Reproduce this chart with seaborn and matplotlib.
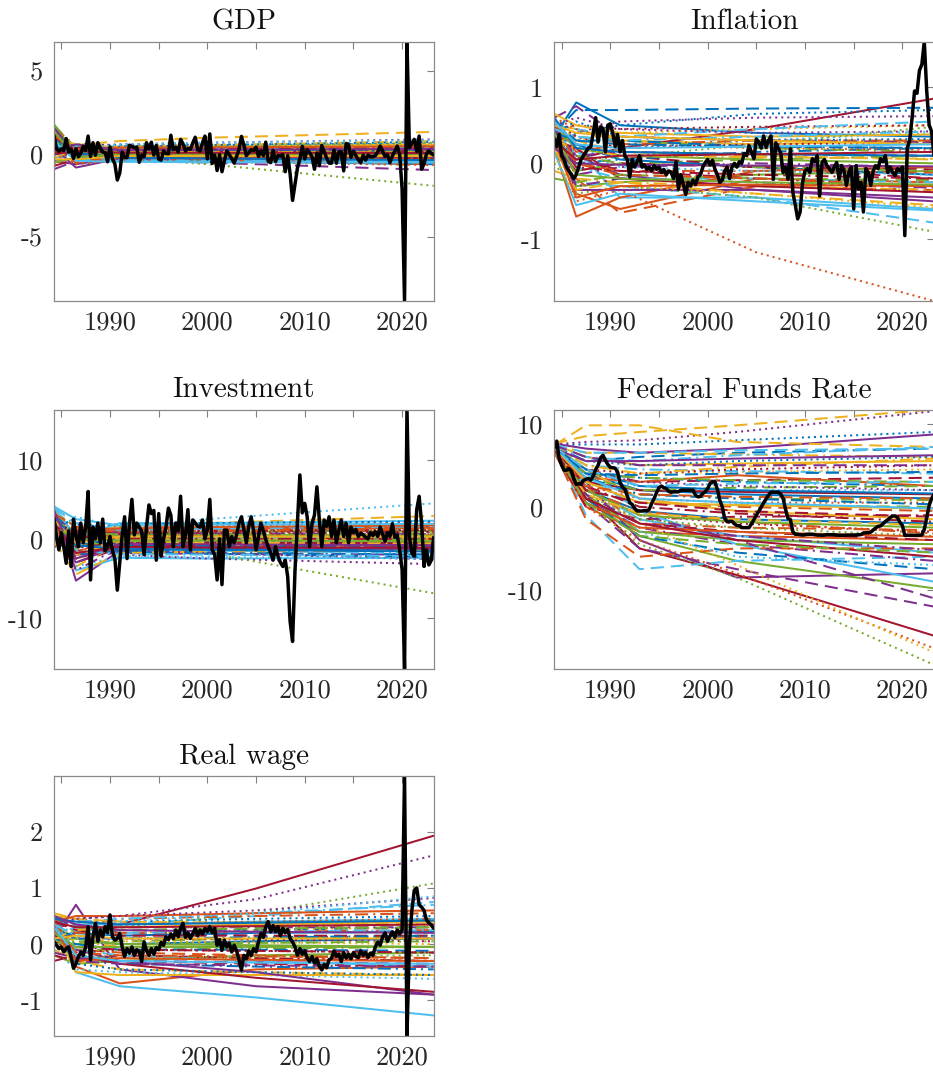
import numpy as np
import pandas as pd
import matplotlib
matplotlib.use("Agg")
import matplotlib.pyplot as plt
import seaborn as sns

# Quarterly sample, 1984Q2 .. 2023Q2 (year + (q-1)/4)
quarters = np.arange(1984.25, 2023.26, 0.25)

# ---- observed series (demeaned, quarterly) ----
gdp_obs = [
    1.13, 0.33, 0.18,
    0.33, 0.23, 0.95, 0.13,
    0.33, -0.25, 0.33, -0.15,
    0.05, 0.48, 0.23, 1.10,
    -0.13, 0.70, -0.05, 0.70,
    0.38, 0.13, 0.10, -0.45,
    0.45, -0.28, -0.58, -1.55,
    -1.13, 0.13, -0.18, -0.20,
    0.55, 0.48, 0.40, 0.43,
    -0.48, -0.05, -0.15, 0.70,
    0.33, 0.73, -0.05, 0.53,
    -0.30, -0.35, 0.20, 0.05,
    0.03, 1.15, 0.28, 0.43,
    0.13, 0.90, 0.63, 0.20,
    0.35, 0.30, 0.68, 1.03,
    0.30, 0.20, 0.70, 1.10,
    -0.28, 1.23, -0.55, -0.05,
    -0.98, -0.03, -1.05, -0.38,
    0.20, -0.03, -0.25, -0.53,
    -0.13, 0.30, 1.08, 0.55,
    -0.08, 0.10, 0.28, 0.23,
    0.43, -0.13, 0.20, -0.08,
    0.73, -0.43, -0.50, 0.23,
    -0.43, -0.08, -0.10, -0.03,
    -1.05, -0.08, -1.18, -2.78,
    -1.80, -0.83, -0.28, 0.48,
    -0.28, 0.28, 0.10, -0.15,
    -0.90, 0.08, -0.68, 0.53,
    0.15, -0.23, -0.53, -0.53,
    0.25, -0.53, 0.15, 0.15,
    -1.00, 0.65, 0.58, -0.18,
    0.18, -0.08, -0.33, -0.50,
    -0.05, -0.35, -0.05, -0.15,
    -0.15, -0.08, 0.15, 0.50,
    0.18, -0.13, -0.03, -0.50,
    -0.10, 0.20, 0.50, 0.00,
    -2.10, -8.85, 6.80, 0.40,
    0.65, 0.90, 0.18, 1.10,
    -0.90, -0.58, 0.03, 0.20,
    0.05, -0.05,
]

infl_obs = [
    0.32, 0.22, 0.38,
    0.10, 0.05, -0.05, -0.10,
    -0.15, -0.20, -0.15, -0.05,
    0.05, 0.10, 0.15, 0.20,
    0.22, 0.40, 0.60, 0.28,
    0.48, 0.45, 0.15, 0.50,
    0.52, 0.40, 0.22, 0.38,
    0.15, 0.30, 0.10, 0.05,
    -0.18, 0.05, -0.05, 0.02,
    0.10, -0.05, -0.02, -0.08,
    -0.05, -0.10, -0.03, -0.08,
    -0.05, -0.12, -0.08, -0.15,
    -0.10, -0.12, -0.20, 0.02,
    -0.34, -0.15, -0.28, -0.41,
    -0.25, -0.30, -0.22, -0.28,
    -0.18, -0.15, -0.05, 0.01,
    0.05, -0.02, 0.04, -0.08,
    -0.15, -0.25, -0.22, -0.10,
    -0.05, -0.20, -0.05, 0.00,
    -0.05, 0.02, 0.00, 0.13,
    0.10, 0.23, 0.15, 0.06,
    0.32, 0.28, 0.20, 0.36,
    0.21, 0.30, 0.36, -0.21,
    0.27, 0.20, 0.14, -0.12,
    -0.05, -0.21, 0.19, -0.38,
    -0.55, -0.73, -0.64, -0.25,
    -0.10, -0.07, -0.12, 0.06,
    0.02, 0.10, -0.43, 0.01,
    0.05, -0.03, -0.07, -0.12,
    -0.05, 0.01, -0.21, -0.03,
    -0.10, -0.29, -0.12, -0.05,
    -0.60, -0.03, -0.34, -0.25,
    -0.64, -0.07, -0.12, -0.29,
    -0.10, -0.03, -0.07, 0.06,
    0.02, 0.10, -0.12, -0.05,
    -0.12, -0.16, -0.07, -0.10,
    -0.05, -0.95, 0.20, 0.30,
    0.60, 0.95, 0.92, 1.22,
    1.30, 1.60, 0.95, 0.50,
    0.42, 0.10,
]

inv_obs = [
    2.6, 0.3, -1.4,
    0.8, -1.0, -3.1, 1.0,
    -3.5, 2.5, 0.5, -1.0,
    2.0, -0.5, 1.5, 6.0,
    -5.2, 1.5, 0.0, 2.0,
    -0.5, 2.5, -1.5, -1.0,
    0.3, -1.5, -2.5, -6.5,
    -3.0, 0.5, 2.8, -2.5,
    2.0, 5.0, 0.5, 2.0,
    1.5, 1.0, -2.0, 1.5,
    4.3, 3.2, 3.6, -2.7,
    3.2, -2.2, 0.0, 1.5,
    3.9, 3.0, -1.0, 2.0,
    1.0, 5.4, -1.0, 0.5,
    3.7, -1.4, 2.4, 2.0,
    1.6, 1.5, 2.4, 0.0,
    1.2, 5.0, -1.4, -2.0,
    -5.2, 0.0, -5.8, 1.1,
    1.1, -1.0, 0.3, -0.5,
    0.5, 2.0, 2.8, 1.2,
    -0.5, 1.6, 2.8, 1.0,
    -1.4, 0.3, 2.0, 1.0,
    -0.1, -1.0, -1.8, -2.7,
    -1.0, -2.2, -3.0, -3.5,
    -2.7, -4.8, -10.5, -13.0,
    -4.0, 2.0, 8.1, 3.3,
    4.5, 2.8, -1.0, 2.0,
    3.0, 6.6, 2.4, -1.0,
    2.4, 1.6, 2.8, 0.3,
    2.4, -0.5, 1.1, 2.4,
    0.3, 2.0, -0.5, 1.5,
    0.8, 1.2, 0.3, 0.7,
    0.5, 0.2, 0.0, 0.8,
    0.4, 0.9, 0.3, 1.5,
    0.6, -0.3, 0.8, 0.3,
    1.9, 0.2, 0.5, -1.4,
    -3.9, -16.5, 16.4, 0.3,
    -1.8, -2.2, 3.7, 5.4,
    2.0, -3.5, -1.4, -3.3,
    -2.7, 0.2,
]

ffr_obs = [
    7.1, 7.9, 5.8,
    5.0, 4.4, 4.4, 4.6,
    4.3, 3.4, 2.7, 2.8,
    2.7, 3.2, 3.3, 3.4,
    3.2, 3.7, 4.5, 5.0,
    5.9, 6.2, 5.6, 5.1,
    4.75, 4.7, 4.65, 4.2,
    2.9, 2.4, 2.1, 1.3,
    0.5, 0.3, -0.2, -0.5,
    -0.5, -0.5, -0.45, -0.5,
    -0.3, 0.4, 1.0, 1.7,
    2.3, 2.5, 2.3, 2.2,
    1.85, 1.75, 1.8, 1.8,
    1.8, 2.0, 2.0, 2.0,
    2.0, 2.0, 2.0, 1.4,
    1.2, 1.25, 1.6, 1.8,
    2.2, 2.8, 3.0, 3.0,
    2.1, 0.8, 0.0, -1.4,
    -1.8, -1.75, -1.75, -2.05,
    -2.25, -2.25, -2.5, -2.5,
    -2.5, -2.5, -2.05, -1.55,
    -1.0, -0.55, -0.05, 0.5,
    0.95, 1.4, 1.75, 1.75,
    1.75, 1.75, 1.55, 1.0,
    -0.3, -1.4, -1.55, -3.0,
    -3.3, -3.3, -3.35, -3.4,
    -3.35, -3.3, -3.3, -3.3,
    -3.35, -3.4, -3.4, -3.43,
    -3.4, -3.35, -3.35, -3.35,
    -3.35, -3.4, -3.42, -3.42,
    -3.43, -3.4, -3.4, -3.4,
    -3.39, -3.38, -3.37, -3.34,
    -3.14, -3.13, -3.11, -3.05,
    -2.8, -2.55, -2.35, -2.3,
    -2.05, -1.76, -1.58, -1.28,
    -1.1, -1.1, -1.3, -1.86,
    -2.24, -3.44, -3.41, -3.41,
    -3.42, -3.43, -3.41, -3.42,
    -3.38, -2.73, -1.31, 0.15,
    1.0, 1.5,
]

wage_obs = [
    0.04, -0.02, -0.08,
    -0.05, -0.14, -0.08, -0.05,
    -0.23, -0.43, -0.35, -0.23,
    -0.14, -0.20, -0.05, 0.31,
    -0.28, 0.13, 0.37, 0.05,
    0.25, 0.13, 0.31, 0.20,
    0.52, 0.13, 0.07, 0.10,
    0.19, -0.05, -0.22, -0.08,
    -0.16, -0.05, -0.20, -0.10,
    -0.13, -0.31, 0.04, -0.12,
    -0.20, -0.08, -0.18, -0.06,
    -0.10, 0.03, -0.02, 0.13,
    0.08, 0.18, 0.10, 0.25,
    0.13, 0.28, 0.37, 0.12,
    0.20, 0.10, 0.19, 0.28,
    0.15, 0.25, 0.18, 0.28,
    0.22, 0.31, 0.20, 0.28,
    -0.02, 0.08, -0.11, 0.07,
    -0.05, 0.02, -0.14, -0.02,
    -0.12, -0.28, -0.46, -0.20,
    -0.26, -0.12, -0.20, -0.08,
    -0.14, 0.04, 0.19, 0.12,
    0.31, 0.40, 0.22, 0.33,
    0.22, 0.31, 0.15, 0.28,
    0.20, 0.26, 0.10, 0.04,
    -0.05, -0.20, -0.08, -0.18,
    -0.12, -0.25, -0.31, -0.22,
    -0.34, -0.26, -0.40, -0.46,
    -0.36, -0.42, -0.28, -0.25,
    -0.12, -0.22, -0.18, -0.31,
    -0.15, -0.25, -0.18, -0.26,
    -0.15, -0.22, -0.24, -0.12,
    -0.20, -0.15, -0.24, -0.16,
    -0.20, -0.05, 0.04, -0.02,
    0.13, 0.20, 0.05, 0.14,
    0.22, 0.12, 0.25, 0.18,
    0.25, 3.00, -1.63, 0.01,
    0.60, 0.96, 1.00, 0.70,
    0.66, 0.60, 0.43, 0.38,
    0.34, 0.28,
]

# ---- simulated paths: value at each knot date ----
gdp_knots = [1984.25, 1986.5, 1991.0, 2000.0, 2023.25]
gdp_paths = [
    [0.6, 0.2, 0.1, 0.08, 0.05], [1.2, -0.3, 0.0, -0.03, -0.1], [0.9, 0.4, 0.3, 0.32, 0.35],
    [-0.4, -0.6, -0.2, -0.23, -0.3], [1.5, -0.5, -0.1, -0.13, -0.2], [0.3, 0.3, 0.1, -0.35, -0.55],
    [0.8, 0.1, 0.2, 0.22, 0.25], [0.2, 0.35, 0.45, 0.48, 0.55], [1.0, 0.0, -0.05, -0.15, -0.35],
    [0.7, 0.55, 0.8, 1.0, 1.35], [0.1, -0.2, -0.3, -0.5, -0.95], [1.8, 0.3, 0.15, 0.17, 0.2],
    [-0.2, -0.1, 0.05, 0.07, 0.1], [0.5, -0.2, -0.15, -0.25, -0.45], [0.4, 0.6, 0.55, 0.58, 0.65],
    [1.4, 0.2, 0.3, 0.33, 0.4], [-0.6, 0.0, 0.2, 0.27, 0.45], [0.9, 0.5, 0.6, 0.7, 0.9],
    [0.3, -0.1, -0.2, -0.6, -1.9], [1.1, 0.4, 0.5, 0.52, 0.55], [-0.3, -0.4, -0.1, -0.08, -0.05],
    [0.0, 0.1, 0.0, -0.05, -0.15], [1.6, 0.5, 0.25, 0.27, 0.3], [0.5, -0.3, -0.05, -0.03, 0.0],
    [-0.9, -0.4, -0.2, -0.27, -0.4], [0.8, 0.2, 0.1, 0.12, 0.15], [1.3, 0.0, -0.25, -0.33, -0.5],
    [0.2, 0.1, 0.35, 0.4, 0.5], [0.7, -0.1, -0.3, -0.4, -0.6], [-0.5, -0.2, 0.05, 0.07, 0.1],
    [1.0, 0.6, 0.4, 0.45, 0.6], [0.4, -0.8, -0.25, -0.28, -0.35], [1.7, 0.1, 0.2, 0.23, 0.3],
    [0.6, -0.3, -0.4, -0.42, -0.45], [0.1, 0.3, 0.0, -0.08, -0.25], [1.2, 0.4, 0.2, 0.2, 0.2],
    [0.3, -0.5, -0.2, -0.32, -0.6], [-0.2, 0.3, 0.45, 0.55, 0.8], [1.5, 0.1, 0.1, 0.07, 0.0],
    [0.6, 0.0, 0.0, 0.02, 0.05], [0.9, 0.5, 0.3, 0.35, 0.45], [-0.7, -0.3, 0.1, 0.13, 0.2],
    [0.8, 0.2, 0.45, 0.55, 0.75], [0.0, -0.6, -0.35, -0.45, -0.65], [1.1, 0.1, 0.15, 0.18, 0.25],
    [0.5, 0.0, -0.05, -0.07, -0.1], [1.4, 0.5, 0.35, 0.45, 0.7], [-0.1, 0.2, 0.6, 0.7, 0.85],
    [0.3, -0.2, -0.1, -0.15, -0.3], [0.9, 0.3, 0.25, 0.26, 0.28], [1.3, -0.4, -0.2, -0.22, -0.25],
    [0.4, 0.2, 0.15, 0.14, 0.12], [1.6, 0.0, -0.1, -0.12, -0.15], [-0.5, -0.2, 0.0, 0.02, 0.05],
    [0.7, -0.1, -0.35, -0.38, -0.42], [1.0, 0.4, 0.3, 0.33, 0.38], [0.5, 0.1, -0.2, -0.25, -0.35],
    [1.1, 0.3, 0.4, 0.42, 0.48], [-0.3, -0.3, -0.1, -0.1, -0.1], [0.2, 0.6, 0.25, 0.28, 0.32],
    [1.4, -0.2, 0.05, 0.05, 0.05], [0.8, -0.4, -0.45, -0.48, -0.5], [0.0, 0.2, 0.1, 0.09, 0.08],
]

infl_knots = [1984.25, 1986.5, 1991.0, 2005.0, 2023.25]
infl_paths = [
    [0.35, 0.8, 0.5, 0.4, 0.35], [0.6, -0.4, -0.6, -0.2, -0.25], [0.5, 0.45, 0.3, 0.25, 0.3],
    [0.3, 0.1, -0.15, -0.35, -0.5], [0.2, -0.3, -0.25, -0.15, -0.1], [0.45, 0.2, -0.45, -0.45, -0.6],
    [0.25, 0.05, 0.2, 0.45, 0.85], [0.4, 0.7, 0.7, 0.72, 0.73], [0.55, -0.2, -0.65, -0.3, -0.35],
    [0.3, 0.3, 0.15, 0.1, 0.05], [0.6, 0.75, 0.35, 0.3, 0.28], [0.1, -0.1, 0.0, 0.05, 0.1],
    [0.35, -0.25, -0.3, -0.45, -0.78], [0.5, 0.25, 0.1, -0.05, -0.2], [0.2, 0.4, 0.5, 0.65, 0.7],
    [0.4, -0.5, -0.35, -1.17, -1.81], [0.55, 0.3, 0.4, 0.45, 0.5], [0.15, 0.4, 0.55, 0.6, 0.62],
    [0.0, -0.4, -0.3, -0.45, -0.9], [0.3, 0.1, 0.2, 0.3, 0.4], [0.45, 0.5, 0.45, 0.48, 0.5],
    [0.25, 0.0, 0.05, 0.15, 0.2], [0.5, 0.15, 0.25, 0.3, 0.3], [-0.1, -0.2, -0.25, -0.3, -0.35],
    [0.4, -0.15, -0.05, 0.0, -0.05], [0.3, 0.35, 0.3, 0.2, 0.15], [0.6, -0.05, -0.2, -0.2, -0.25],
    [0.1, 0.1, -0.1, -0.2, -0.3], [0.45, 0.25, 0.05, -0.05, -0.15], [0.2, -0.7, -0.45, -0.1, -0.05],
    [0.65, 0.5, 0.4, 0.35, 0.38], [0.35, -0.35, -0.35, -0.35, -0.45], [0.5, 0.2, 0.1, 0.05, 0.0],
    [0.15, -0.55, -0.4, -0.5, -0.62], [0.3, 0.2, -0.2, -0.3, -0.38], [0.55, 0.3, 0.3, 0.22, 0.2],
    [0.35, 0.0, -0.1, -0.1, -0.12], [0.2, -0.35, -0.25, -0.4, -0.55], [0.45, 0.1, 0.15, 0.12, 0.1],
    [-0.2, -0.25, -0.15, -0.2, -0.22], [0.5, 0.45, 0.35, 0.45, 0.55], [0.25, -0.1, 0.0, -0.05, -0.08],
    [0.4, 0.55, 0.35, 0.3, 0.32], [0.6, 0.45, 0.25, 0.2, 0.18], [0.1, -0.45, -0.3, -0.4, -0.58],
    [0.5, 0.6, 0.45, 0.4, 0.42], [0.35, 0.05, 0.08, 0.25, 0.48], [0.2, 0.15, -0.05, -0.1, -0.15],
    [0.55, 0.35, 0.2, 0.25, 0.27], [0.4, 0.3, 0.25, 0.22, 0.2], [0.55, 0.0, -0.15, -0.2, -0.3],
    [0.3, 0.2, 0.1, 0.08, 0.06], [0.5, -0.3, -0.2, -0.25, -0.32], [0.25, 0.1, 0.0, -0.05, -0.1],
    [0.45, 0.35, 0.3, 0.35, 0.42], [0.35, -0.05, -0.1, -0.15, -0.2], [0.6, 0.2, 0.15, 0.12, 0.1],
    [0.3, -0.45, -0.3, -0.28, -0.3], [0.5, 0.4, 0.35, 0.3, 0.25], [0.2, 0.0, -0.02, -0.03, -0.04],
    [0.4, -0.15, -0.2, -0.25, -0.28], [0.55, 0.25, 0.2, 0.22, 0.25], [0.3, 0.05, 0.1, 0.12, 0.15],
]

inv_knots = [1984.25, 1986.5, 1991.0, 2000.0, 2023.25]
inv_paths = [
    [2.0, -1.0, -0.5, -0.5, -0.6], [3.5, 0.5, 0.3, 0.4, 0.5], [1.0, -2.5, -1.0, -0.9, -0.8],
    [4.2, -5.3, -1.5, -1.4, -1.3], [0.5, 1.0, 0.8, 0.9, 1.0], [3.0, -4.0, -2.4, -2.5, -2.4],
    [2.5, 0.0, 0.2, 0.1, 0.0], [1.5, 1.5, 1.2, 1.3, 1.5], [-0.5, -1.5, -0.8, -1.0, -1.2],
    [3.0, 1.0, 1.5, 2.0, 2.9], [0.0, -2.0, -1.8, -1.9, -2.0], [2.8, 0.5, 0.6, 0.6, 0.7],
    [1.2, -0.5, 0.0, 0.1, 0.2], [3.8, -3.0, -1.2, -1.3, -1.5], [2.2, 2.0, 1.0, 1.1, 1.2],
    [0.8, 1.5, 1.6, 1.8, 2.0], [3.3, -1.0, -0.3, -0.3, -0.4], [1.8, -1.5, -2.0, -2.5, -3.2],
    [2.0, 0.0, -1.0, -1.8, -6.9], [1.0, 2.8, 1.5, 2.5, 4.5], [-1.0, -0.5, 0.5, 0.6, 0.8],
    [3.0, -2.0, -1.5, -1.7, -2.0], [1.5, 0.8, 1.0, 1.1, 1.3], [2.5, -3.5, -0.6, -0.6, -0.7],
    [0.5, 0.0, -0.2, -0.3, -0.5], [3.5, 1.5, 0.4, 0.3, 0.2], [2.0, -1.0, -1.3, -1.5, -1.8],
    [1.0, 0.5, 0.9, 1.0, 1.1], [2.7, -0.5, -1.0, -1.2, -1.5], [0.2, -2.0, 1.2, 1.3, 1.4],
    [3.6, 0.3, 0.0, -0.1, -0.2], [1.2, -3.0, -0.8, -1.0, -1.3], [2.3, -1.2, 0.6, 0.5, 0.4],
    [4.0, 0.2, 2.0, 2.0, 2.3], [0.8, -1.0, -0.4, -0.5, -0.6], [3.1, 0.5, -1.6, -1.9, -2.3],
    [1.6, -0.3, 0.3, 0.4, 0.6], [-0.3, -4.5, -1.8, -1.6, -1.5], [2.6, 1.0, 0.8, 0.7, 0.6],
    [1.4, -0.8, -0.3, -0.2, -0.1], [3.9, 2.0, 1.1, 1.3, 1.6], [0.6, -2.5, -0.9, -0.8, -0.9],
    [2.4, 1.8, 1.8, 2.0, 2.2], [1.9, -0.2, 1.4, 1.6, 2.0], [3.4, -1.8, -0.1, 0.0, 0.1],
    [0.4, -1.0, -1.4, -1.8, -2.6], [2.9, 0.2, 0.2, 0.3, 0.4], [1.1, -3.5, -2.2, -2.3, -2.5],
    [2.1, 0.8, 0.6, 0.8, 0.9], [2.6, 0.0, -0.8, -0.9, -1.0], [3.2, 1.5, 0.9, 1.0, 1.2],
    [1.3, -2.0, -0.4, -0.5, -0.6], [3.7, -4.0, -1.1, -1.1, -1.2], [0.9, 1.0, 0.5, 0.5, 0.5],
    [2.2, -1.5, -1.9, -2.0, -2.2], [1.7, 0.3, 0.0, 0.0, 0.0], [3.0, -0.8, -1.3, -1.4, -1.6],
    [0.6, 1.2, 1.3, 1.5, 1.7], [2.4, -0.5, 0.3, 0.3, 0.3], [3.4, -2.5, -0.6, -0.7, -0.8],
    [1.5, 0.0, -0.2, -0.2, -0.3], [4.1, 2.5, 1.7, 1.8, 1.9], [2.0, -1.8, -1.0, -1.1, -1.1],
]

ffr_knots = [1984.25, 1987.5, 1993.0, 2003.0, 2023.25]
ffr_paths = [
    [7.0, 4.0, 2.0, 1.5, 1.0], [6.5, 0.0, -3.0, -3.5, -4.0], [7.5, 6.0, 5.0, 5.2, 5.5],
    [7.2, 3.0, -4.0, -8.5, -8.0], [6.8, 1.0, -3.5, -6.5, -9.8], [7.0, 2.5, -1.5, -3.5, -5.5],
    [6.5, 1.5, -5.0, -8.2, -15.5], [7.3, 5.5, 6.0, 6.5, 7.0], [6.9, 3.0, 0.5, 0.0, -0.5],
    [7.6, 8.5, 9.0, 9.8, 11.7], [7.0, 0.5, -5.0, -7.5, -12.0], [6.7, 2.0, 0.5, 0.2, 0.0],
    [7.0, -1.0, -7.5, -6.5, -6.0], [7.1, 4.5, 3.0, 3.2, 3.5], [7.4, 7.5, 7.5, 8.0, 9.0],
    [6.6, 0.0, -4.0, -8.0, -17.0], [7.2, 5.0, 4.0, 4.2, 4.5], [7.5, 7.8, 8.0, 9.0, 11.5],
    [6.8, 0.5, -4.5, -8.5, -19.0], [7.0, 3.5, 2.5, 2.0, 2.0], [6.9, 2.0, -1.0, -2.0, -3.0],
    [7.2, 4.0, 3.5, 3.0, 2.5], [6.8, 2.5, -2.0, -2.5, -2.8], [7.4, 6.5, 6.5, 6.3, 6.0],
    [7.0, 1.0, -2.5, -4.5, -6.5], [6.9, 3.0, 1.5, 1.0, 0.8], [7.3, 5.0, 4.5, 4.3, 4.0],
    [6.7, 0.0, -1.5, -1.2, -1.0], [7.1, 2.0, -0.5, -1.5, -2.0], [6.6, 3.5, 3.0, 3.8, 2.5],
    [7.3, 4.5, 1.0, -0.5, -1.5], [7.6, 7.0, 6.5, 7.0, 8.7], [6.9, 1.5, -3.0, -4.0, -4.5],
    [7.0, 4.0, -0.5, -4.5, -9.0], [6.8, 3.0, 2.0, 1.8, 1.5], [7.2, 1.0, -3.5, -5.5, -7.5],
    [6.7, -1.5, -6.0, -5.0, -5.0], [7.4, 9.8, 9.8, 7.8, 7.2], [7.0, 2.0, -1.0, -4.0, -11.0],
    [6.9, 3.5, 2.0, 2.3, 2.5], [7.5, 6.5, 6.5, 6.8, 7.0], [6.8, 1.0, -2.0, -3.0, -4.0],
    [7.3, 5.5, 5.0, 5.5, 6.0], [7.0, 2.5, 1.0, 0.5, 0.5], [6.9, 2.0, -2.0, -7.0, -17.5],
    [7.1, 4.0, 3.0, 2.5, 2.0], [7.0, 1.5, -1.5, -2.5, -3.5], [7.3, 3.0, -3.0, -6.0, -7.0],
    [6.8, 4.5, 4.0, 4.5, 5.0], [7.2, 3.5, 1.5, 1.0, 0.3], [6.9, 2.0, -0.5, -1.8, -3.2],
    [7.4, 5.0, 4.0, 4.8, 5.8], [7.0, 1.5, -2.0, -3.5, -5.2], [6.8, 4.0, 3.5, 3.2, 3.0],
    [7.3, 6.0, 5.5, 6.2, 7.2], [6.9, 2.5, 0.0, -0.8, -1.8], [7.1, 4.5, 2.5, 2.0, 1.6],
    [6.8, 0.5, -2.5, -3.0, -3.6], [7.2, 3.0, 0.5, 0.2, -0.2], [7.0, 5.5, 5.5, 5.8, 6.2],
    [6.7, 2.0, -1.0, -1.8, -2.5], [7.2, 3.5, 1.0, 0.5, -0.2], [6.9, 1.0, -2.0, -4.0, -6.0],
    [7.3, 4.0, 3.8, 4.0, 4.2], [6.8, 2.5, 1.5, 1.2, 1.0], [7.1, 1.5, -0.8, -1.5, -2.2],
    [7.4, 6.0, 5.0, 5.0, 5.0], [6.9, 0.5, -3.5, -4.5, -5.5], [7.2, 4.5, 2.5, 2.8, 3.0],
    [6.8, 2.0, 0.5, -0.5, -1.2],
]

wage_knots = [1984.25, 1986.5, 1991.0, 2005.0, 2023.25]
wage_paths = [
    [0.3, 0.1, 0.0, 0.05, 0.1], [0.2, -0.4, -0.7, -0.45, -0.4], [0.5, 0.45, 0.3, 0.35, 0.4],
    [0.1, 0.7, -0.45, -0.75, -0.9], [-0.2, -0.35, -0.3, -0.2, -0.15], [0.4, -0.5, -0.75, -0.95, -1.27],
    [0.0, 0.2, 0.35, 0.99, 1.93], [0.45, 0.3, 0.25, 0.25, 0.3], [0.1, -0.1, -0.15, -0.2, -0.25],
    [-0.1, -0.3, -0.45, -0.5, -0.55], [0.3, 0.35, 0.2, 0.15, 0.1], [0.2, 0.0, 0.05, 0.1, 0.15],
    [0.5, 0.2, 0.35, 0.5, 0.75], [-0.3, -0.2, -0.3, -0.35, -0.4], [0.35, 0.4, 0.4, 0.45, 0.5],
    [0.0, -0.25, -0.2, -0.25, -0.3], [0.25, 0.15, 0.2, 0.25, 0.3], [0.4, 0.45, 0.5, 0.8, 1.58],
    [0.15, 0.25, 0.3, 0.55, 1.08], [-0.1, -0.45, -0.5, -0.55, -0.62], [0.2, 0.1, 0.1, 0.08, 0.05],
    [0.0, -0.2, -0.35, -0.4, -0.45], [0.35, 0.3, 0.45, 0.5, 0.55], [0.1, 0.05, -0.05, -0.05, -0.05],
    [0.45, 0.35, 0.3, 0.3, 0.3], [0.25, -0.1, -0.1, -0.08, -0.05], [0.3, 0.4, 0.45, 0.55, 0.7],
    [-0.2, -0.3, -0.2, -0.25, -0.3], [0.15, 0.2, 0.15, 0.2, 0.22], [0.4, 0.5, 0.5, 0.55, 0.6],
    [0.3, -0.5, -0.55, -0.55, -0.55], [0.2, -0.1, -0.3, -0.5, -0.9], [0.05, 0.1, 0.0, -0.02, -0.05],
    [0.5, 0.35, 0.35, 0.4, 0.45], [0.25, -0.2, -0.35, -0.6, -0.85], [0.1, 0.0, -0.1, -0.1, -0.12],
    [0.3, 0.2, 0.2, 0.22, 0.25], [0.55, 0.45, 0.4, 0.38, 0.35], [-0.15, -0.25, -0.3, -0.32, -0.35],
    [0.2, 0.3, 0.25, 0.28, 0.3], [0.35, -0.1, -0.2, -0.3, -0.4], [0.4, 0.25, 0.15, 0.15, 0.15],
    [0.25, -0.35, -0.45, -0.5, -0.55], [0.45, 0.4, 0.35, 0.4, 0.45], [0.0, 0.1, 0.05, 0.03, 0.0],
    [0.3, 0.45, 0.5, 0.6, 0.82], [0.1, -0.2, -0.25, -0.22, -0.2], [0.2, 0.3, 0.4, 0.55, 0.85],
    [0.05, -0.15, -0.1, -0.12, -0.15], [0.2, 0.1, 0.1, 0.12, 0.15], [0.4, -0.15, -0.2, -0.22, -0.25],
    [0.1, 0.25, 0.3, 0.32, 0.35], [0.3, -0.3, -0.35, -0.38, -0.4], [0.0, 0.05, 0.0, 0.02, 0.05],
    [0.35, 0.15, 0.2, 0.22, 0.25], [0.15, -0.05, -0.1, -0.12, -0.15], [0.45, 0.4, 0.35, 0.38, 0.42],
    [0.25, -0.3, -0.25, -0.28, -0.3], [0.1, 0.15, 0.1, 0.1, 0.1], [0.5, 0.35, 0.25, 0.22, 0.2],
    [0.2, -0.05, -0.05, -0.05, -0.05], [0.3, -0.2, -0.3, -0.33, -0.35], [0.4, 0.3, 0.3, 0.32, 0.35],
]

# ---- styling ----
line_colors = ["#0072BD", "#D95319", "#EDB120", "#7E2F8E", "#77AC30", "#4DBEEE", "#A2142F"]
line_dashes = ["", (6.5, 3.5), (1.0, 2.0), (6.5, 2.5, 1.0, 2.5)]

sns.set_style("white")
plt.rcParams["font.family"] = ["cmr10", "DejaVu Serif"]
plt.rcParams["axes.unicode_minus"] = False

fig = plt.figure(figsize=(9.33, 10.74), dpi=100)

col_left = [0.0579, 0.5941]
col_width = 0.4070
row_bottom = [0.7197, 0.3771, 0.0357]
row_height = 0.2416

panels = [
    ("GDP", gdp_obs, gdp_knots, gdp_paths, (-8.85, 6.8), [-5, 0, 5], (0, 0)),
    ("Inflation", infl_obs, infl_knots, infl_paths, (-1.81, 1.6), [-1, 0, 1], (0, 1)),
    ("Investment", inv_obs, inv_knots, inv_paths, (-16.5, 16.4), [-10, 0, 10], (1, 0)),
    ("Federal Funds Rate", ffr_obs, ffr_knots, ffr_paths, (-19.5, 11.7), [-10, 0, 10], (1, 1)),
    ("Real wage", wage_obs, wage_knots, wage_paths, (-1.63, 2.99), [-1, 0, 1, 2], (2, 0)),
]

xticks = [1985, 1990, 1995, 2000, 2005, 2010, 2015, 2020]
xlabels = ["", "1990", "", "2000", "", "2010", "", "2020"]

for title, obs, knots, paths, ylim, yticks, (r, c) in panels:
    ax = fig.add_axes([col_left[c], row_bottom[r], col_width, row_height])

    names = [f"p{i:02d}" for i in range(len(paths))]
    frame = pd.DataFrame(
        [(n, x, v) for n, vals in zip(names, paths) for x, v in zip(knots, vals)],
        columns=["path", "year", "value"],
    )
    palette = {n: line_colors[i % 7] for i, n in enumerate(names)}
    dashes = {n: line_dashes[(i // 7) % 4] for i, n in enumerate(names)}
    sns.lineplot(data=frame, x="year", y="value", hue="path", style="path",
                 hue_order=names, style_order=names, palette=palette, dashes=dashes,
                 linewidth=1.45, legend=False, estimator=None, sort=False, ax=ax)

    sns.lineplot(x=quarters, y=obs, color="black", linewidth=2.5,
                 estimator=None, ax=ax)

    ax.set_xlim(1984.25, 2023.25)
    ax.set_ylim(*ylim)
    ax.set_xticks(xticks)
    ax.set_xticklabels(xlabels)
    ax.set_yticks(yticks)
    ax.set_yticklabels([str(t) for t in yticks])
    ax.set_xlabel("")
    ax.set_ylabel("")
    ax.tick_params(direction="in", top=True, right=True, length=5, width=0.8,
                   color="#7f7f7f", labelsize=19, labelcolor="#262626")
    ax.tick_params(axis="x", pad=7)
    ax.tick_params(axis="y", pad=8)
    for s in ax.spines.values():
        s.set_color("#8a8a8a")
        s.set_linewidth(0.9)
    ax.set_title(title, fontsize=21, pad=9, color="#111111")

fig.savefig("out.png", dpi=100)
